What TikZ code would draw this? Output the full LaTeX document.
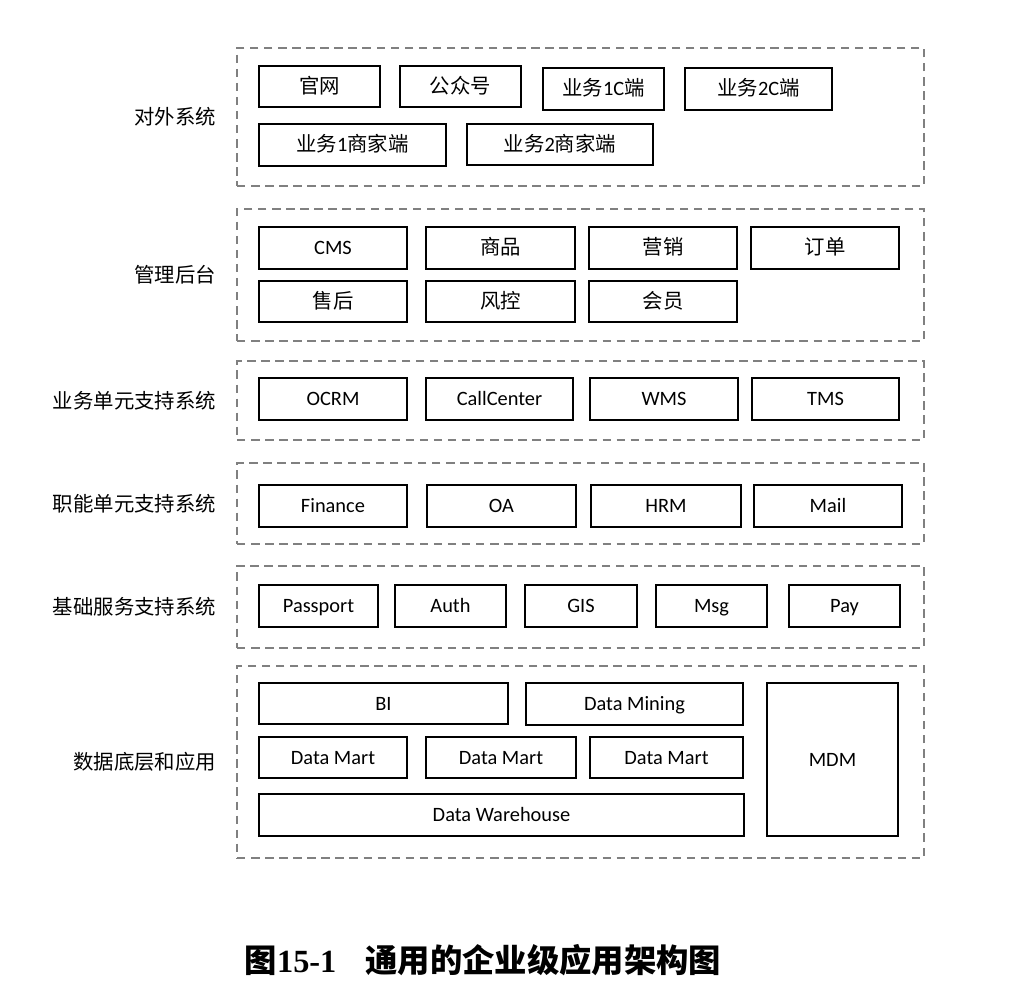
\documentclass[tikz,border=0pt]{standalone}
\usepackage{fontspec}
\setmainfont{Carlito}
\newfontfamily\cjk{Noto Sans CJK SC}
\newfontfamily\capfont{Liberation Serif}
\usetikzlibrary{fit,positioning}

\begin{document}
\begin{tikzpicture}[x=0.025cm, y=-0.025cm,
        box/.style={draw, line width=1.3pt, inner sep=0pt},
        every label/.style={inner sep=0pt, text height=12pt, text depth=2.5pt, font=\fontsize{14.5}{16}\selectfont},
        layer/.style={draw=black!50, line width=0.9pt, dash pattern=on 6pt off 4pt, inner sep=0pt},
        side/.style={anchor=east, inner sep=0pt, font=\fontsize{14.5}{16}\selectfont\cjk}]

            \useasboundingbox (0, 0) rectangle (1014, 998);

            % layers
            \node (L1) [layer, fit={(237, 48) (924, 186)}] {};
            \node (L2) [layer, fit={(237, 209) (924, 341)}] {};
            \node (L3) [layer, fit={(237, 361) (924, 440)}] {};
            \node (L4) [layer, fit={(237, 463) (924, 544)}] {};
            \node (L5) [layer, fit={(237, 566) (924, 648)}] {};
            \node (L6) [layer, fit={(237, 666) (924, 858)}] {};

            \node (T1) [side, left=0.5cm of L1] {对外系统};
            \node (T2) [side, left=0.5cm of L2] {管理后台};
            \node (T3) [side, left=0.5cm of L3] {业务单元支持系统};
            \node (T4) [side, left=0.5cm of L4] {职能单元支持系统};
            \node (T5) [side, left=0.5cm of L5] {基础服务支持系统};
            \node (T6) [side, left=0.5cm of L6] {数据底层和应用};

            % layer 1
            \node (1-1) [box, fit={(259, 66) (380, 107)}, label=center:{\cjk 官网}] {};
            \node (1-2) [box, fit={(400, 66) (521, 107)}, label=center:{\cjk 公众号}] {};
            \node (1-3) [box, fit={(543, 68) (664, 110)}, label=center:{{\cjk 业务}1C{\cjk 端}}] {};
            \node (1-4) [box, fit={(685, 68) (832, 110)}, label=center:{{\cjk 业务}2C{\cjk 端}}] {};
            \node (1-5) [box, fit={(259, 124) (446, 166)}, label=center:{{\cjk 业务}1{\cjk 商家端}}] {};
            \node (1-6) [box, fit={(467, 124) (653, 165)}, label=center:{{\cjk 业务}2{\cjk 商家端}}] {};

            % layer 2
            \node (2-1) [box, fit={(259, 227) (407, 269)}, label=center:CMS] {};
            \node (2-2) [box, fit={(426, 227) (575, 269)}, label=center:{\cjk 商品}] {};
            \node (2-3) [box, fit={(589, 227) (737, 269)}, label=center:{\cjk 营销}] {};
            \node (2-4) [box, fit={(751, 227) (899, 269)}, label=center:{\cjk 订单}] {};
            \node (2-5) [box, fit={(259, 281) (407, 322)}, label=center:{\cjk 售后}] {};
            \node (2-6) [box, fit={(426, 281) (575, 322)}, label=center:{\cjk 风控}] {};
            \node (2-7) [box, fit={(589, 281) (737, 322)}, label=center:{\cjk 会员}] {};

            % layer 3
            \node (3-1) [box, fit={(259, 378) (407, 420)}, label=center:OCRM] {};
            \node (3-2) [box, fit={(426, 378) (573, 420)}, label=center:CallCenter] {};
            \node (3-3) [box, fit={(590, 378) (738, 420)}, label=center:WMS] {};
            \node (3-4) [box, fit={(752, 378) (899, 420)}, label=center:TMS] {};

            % layer 4
            \node (4-1) [box, fit={(259, 485) (407, 527)}, label=center:Finance] {};
            \node (4-2) [box, fit={(427, 485) (576, 527)}, label=center:OA] {};
            \node (4-3) [box, fit={(591, 485) (741, 527)}, label=center:HRM] {};
            \node (4-4) [box, fit={(754, 485) (902, 527)}, label=center:Mail] {};

            % layer 5
            \node (5-1) [box, fit={(259, 585) (378, 627)}, label=center:Passport] {};
            \node (5-2) [box, fit={(395, 585) (506, 627)}, label=center:Auth] {};
            \node (5-3) [box, fit={(525, 585) (637, 627)}, label=center:GIS] {};
            \node (5-4) [box, fit={(656, 585) (767, 627)}, label=center:Msg] {};
            \node (5-5) [box, fit={(789, 585) (900, 627)}, label=center:Pay] {};

            % layer 6
            \node (6-1) [box, fit={(259, 683) (508, 724)}, label=center:BI] {};
            \node (6-2) [box, fit={(526, 683) (743, 725)}, label=center:Data Mining] {};
            \node (6-3) [box, fit={(259, 737) (407, 778)}, label=center:Data Mart] {};
            \node (6-4) [box, fit={(426, 737) (576, 778)}, label=center:Data Mart] {};
            \node (6-5) [box, fit={(590, 737) (743, 778)}, label=center:Data Mart] {};
            \node (6-6) [box, fit={(259, 794) (744, 836)}, label=center:Data Warehouse] {};
            \node (6-7) [box, fit={(767, 683) (898, 836)}, label=center:MDM] {};

            % caption
            \node (cap) at (483, 960) [font=\fontsize{23}{25}\selectfont\bfseries]
                {{\cjk 图}{\capfont 15-1}\hspace{0.9em}{\cjk 通用的企业级应用架构图}};

        \end{tikzpicture}
\end{document}
